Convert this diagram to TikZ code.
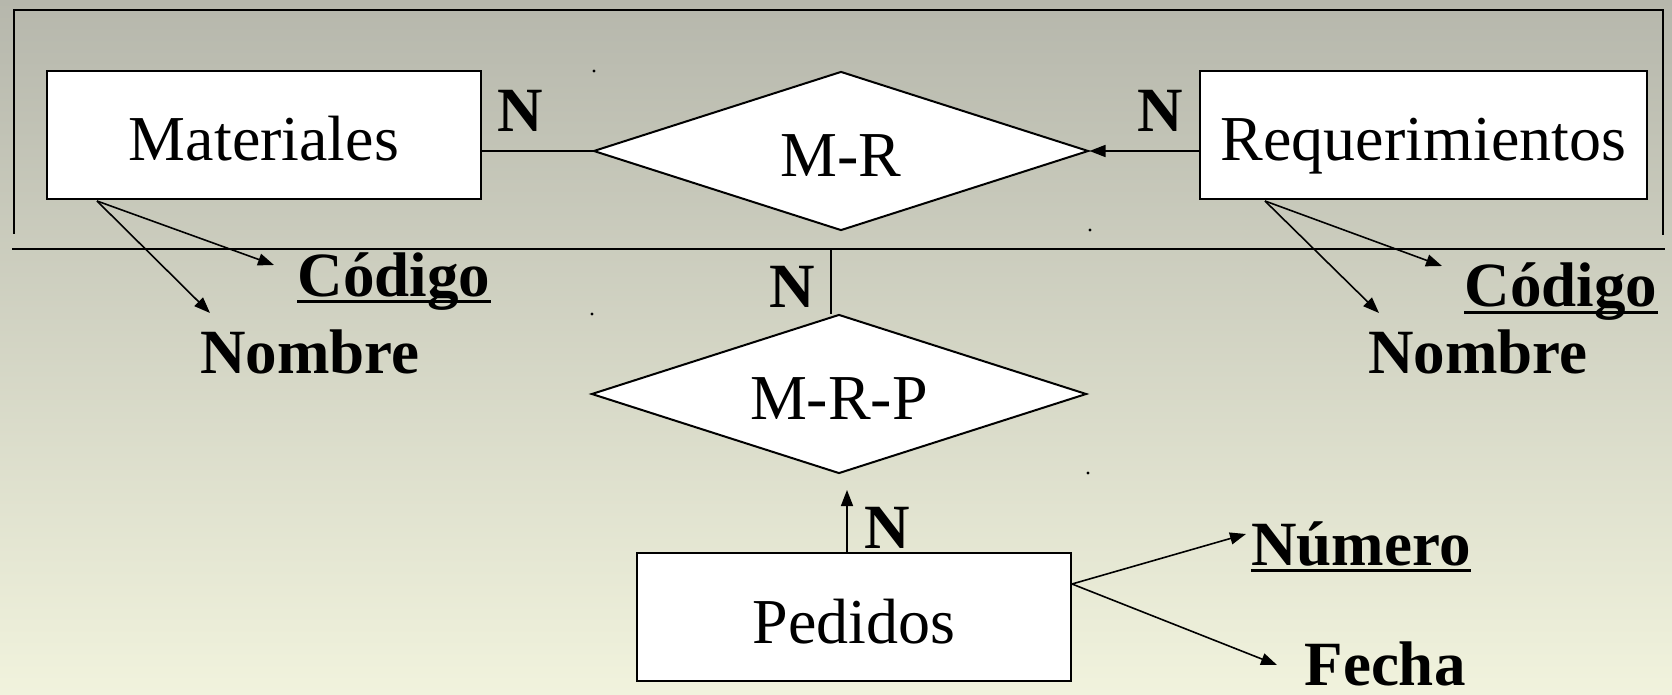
\documentclass[tikz,border=0pt]{standalone}
\usepackage{fontspec}
\setmainfont{Liberation Serif}
\usetikzlibrary{arrows.meta,shapes.geometric,calc}
\definecolor{bgtop}{HTML}{B6B7AC}
\definecolor{bgmid}{HTML}{D2D3C3}
\definecolor{bgbot}{HTML}{F1F3DD}
\begin{document}
\begin{tikzpicture}[x=0.5pt,y=-0.5pt,
  entity/.style={draw, fill=white, line width=1pt, inner sep=0pt, minimum height=64pt,
    text height=26pt, text depth=0pt, font=\fontsize{32}{38}\selectfont},
  rel/.style={diamond, aspect=3.1, draw, fill=white, line width=1pt, inner sep=0pt,
    minimum width=247.5pt, minimum height=79.5pt,
    text height=26pt, text depth=0pt, font=\fontsize{32}{38}\selectfont},
  lbl/.style={anchor=base, inner sep=0pt, font=\bfseries\fontsize{31.5}{36}\selectfont},
  link/.style={line width=0.9pt},
  frame/.style={line width=1.2pt},
  arr/.style={line width=0.8pt, -{Triangle[length=8pt,width=6pt]}},
  uline/.style={line width=1.5pt},
  speck/.style={fill=black}
]
\useasboundingbox (0,0) rectangle (1672,695);
\shade[top color=bgtop, middle color=bgmid, bottom color=bgbot] (0,0) rectangle (1672,695);

% aggregation frame
\draw[frame] (14,234) -- (14,10) -- (1663,10) -- (1663,235);
\draw[frame] (12,249) -- (1665,249);

% entities and relationships
\node[entity, minimum width=217pt] (mat) at (264,135) {Materiales};
\node[entity, minimum width=223.5pt] (req) at (1423.5,135) {Requerimientos};
\node[entity, minimum width=217pt] (ped) at (854,617) {Pedidos};
\node[rel] (mr) at (841,151) {M-R};
\node[rel] (mrp) at (839,394) {M-R-P};

% tiny specks
\fill[speck] (594,71) circle[radius=0.8pt];
\fill[speck] (1090,230) circle[radius=0.8pt];
\fill[speck] (592,314) circle[radius=0.8pt];
\fill[speck] (1088,473) circle[radius=0.8pt];

% cardinality labels
\node[lbl] (n1) at (520,132) {N};
\node[lbl] (n2) at (1160,132) {N};
\node[lbl] (n3) at (792,308) {N};
\node[lbl] (n4) at (887,548) {N};

% attributes
\node[lbl] (cod1) at (394,297) {Código};
\node[lbl] (nom1) at (310,373) {Nombre};
\node[lbl] (cod2) at (1561,307) {Código};
\node[lbl] (nom2) at (1478,373) {Nombre};
\node[lbl] (num) at (1361,565) {Número};
\node[lbl] (fec) at (1385,685) {Fecha};

\draw[uline] ($(cod1.base west)+(0,5)$) -- ($(cod1.base east)+(0,5)$);
\draw[uline] ($(cod2.base west)+(0,6)$) -- ($(cod2.base east)+(0,6)$);
\draw[uline] ($(num.base west)+(0,5)$) -- ($(num.base east)+(0,5)$);

% connectors
\draw[link] (mr.west) -- (mr.west -| mat.east);
\draw[arr] (mr.east -| req.west) -- (mr.east);
\coordinate (aggbot) at (831,249);
\coordinate (mrptop) at (831,314);
\draw[link] (aggbot) -- (mrptop);
\coordinate (pedtop) at ($(ped.north)+(-7,0)$);
\coordinate (mrpin) at (847,490);
\draw[arr] (pedtop) -- (mrpin);

% attribute arrows
\coordinate (matA) at ($(mat.south west)+(51,1)$);
\coordinate (tcod1) at (274,265);
\coordinate (tnom1) at (210,313);
\draw[arr] (matA) -- (tcod1);
\draw[arr] (matA) -- (tnom1);

\coordinate (reqA) at ($(req.south west)+(66,1)$);
\coordinate (tcod2) at (1442,266);
\coordinate (tnom2) at (1379,313);
\draw[arr] (reqA) -- (tcod2);
\draw[arr] (reqA) -- (tnom2);

\coordinate (pedA) at (1072,584);
\coordinate (tnum) at (1246,534);
\coordinate (tfec) at (1277,665);
\draw[arr] (pedA) -- (tnum);
\draw[arr] (pedA) -- (tfec);
\end{tikzpicture}
\end{document}
